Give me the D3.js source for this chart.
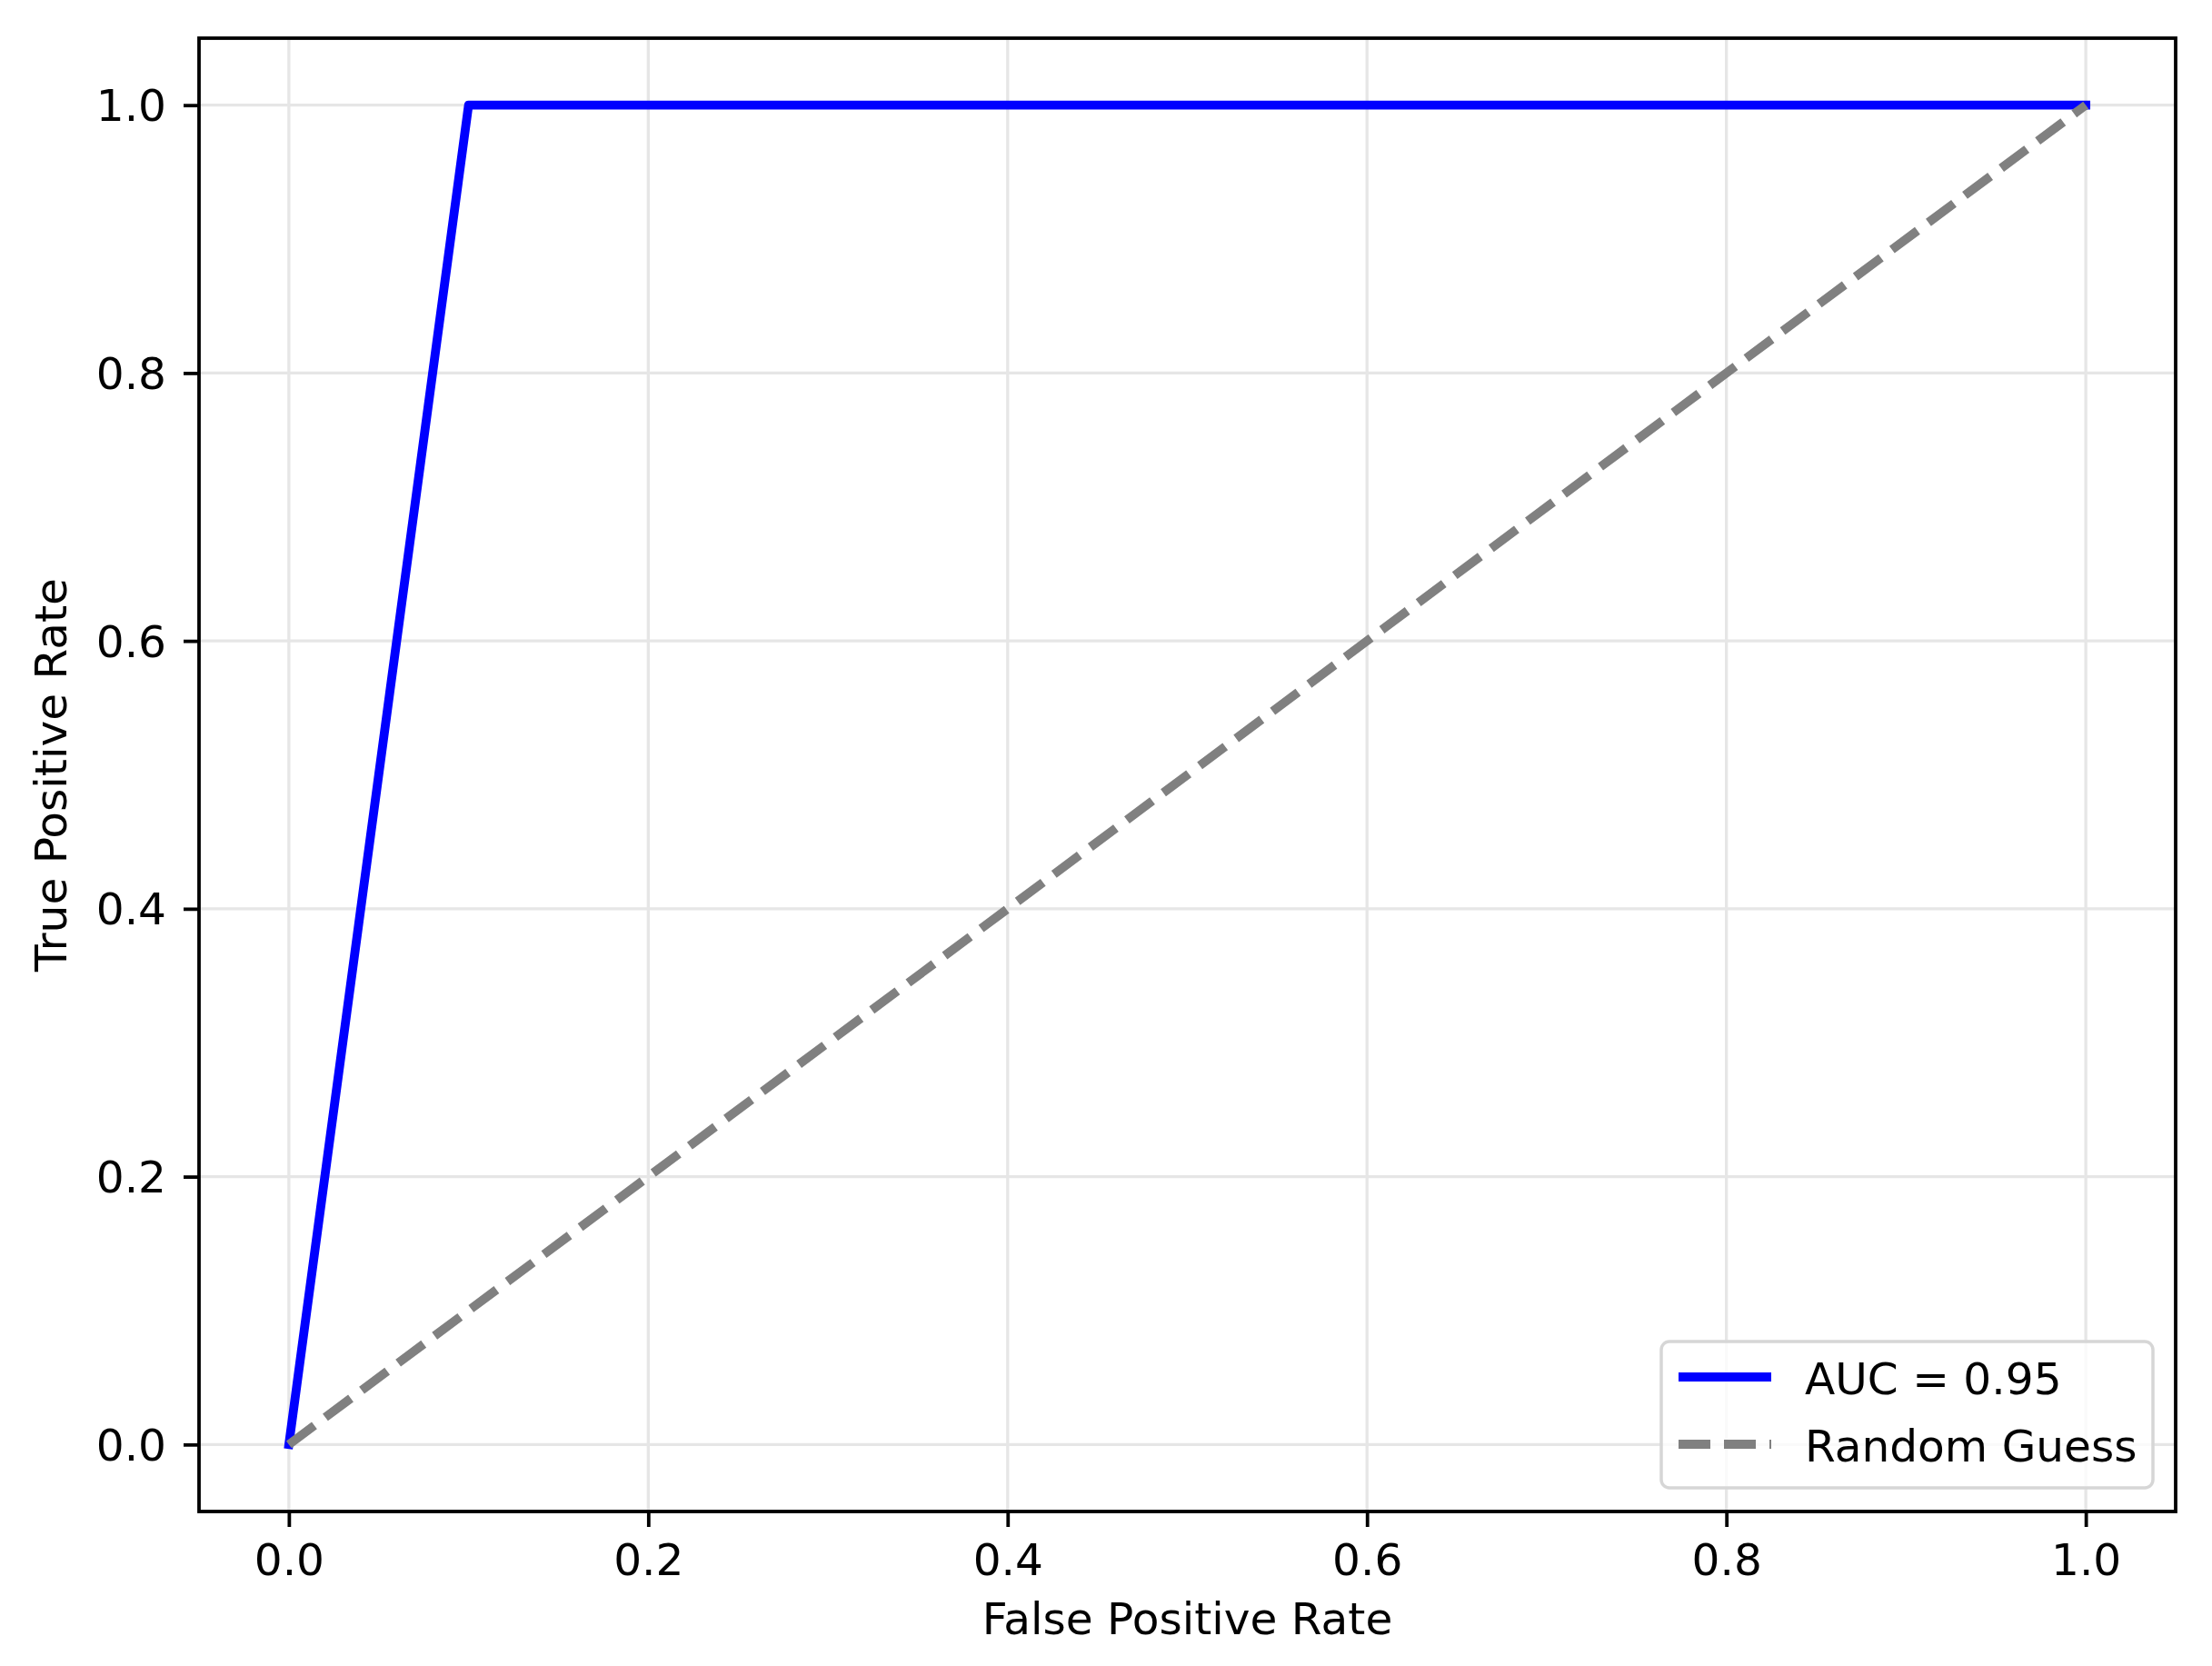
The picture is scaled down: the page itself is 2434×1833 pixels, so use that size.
<!DOCTYPE html>
<html>
<head>
<meta charset="utf-8">
<script src="https://cdn.jsdelivr.net/npm/d3@7"></script>
<style>
  html, body { margin: 0; padding: 0; background: #ffffff; }
  svg { display: block; }
  text { font-family: "DejaVu Sans", sans-serif; fill: #000; }
</style>
</head>
<body>
<script>
// ---- data ----
const rocFpr = [0.0, 0.1, 1.0];
const rocTpr = [0.0, 1.0, 1.0];
const diagFpr = [0.0, 1.0];
const diagTpr = [0.0, 1.0];
const xTicks = [0.0, 0.2, 0.4, 0.6, 0.8, 1.0];
const yTicks = [0.0, 0.2, 0.4, 0.6, 0.8, 1.0];
const legendLabels = ["AUC = 0.95", "Random Guess"];
const xLabel = "False Positive Rate";
const yLabel = "True Positive Rate";

// ---- layout ----
const W = 2434, H = 1833;
const L = 219, R = 2394, T = 42, B = 1663;
const fontPx = 48.6;
const lw = 9.8;

const svg = d3.select("body").append("svg").attr("width", W).attr("height", H);

const x = d3.scaleLinear().domain([-0.05, 1.05]).range([L, R]);
const y = d3.scaleLinear().domain([-0.05, 1.05]).range([B, T]);

// grid
const grid = svg.append("g");
grid.selectAll(".gx").data(xTicks).enter().append("line")
  .attr("x1", d => x(d)).attr("x2", d => x(d)).attr("y1", T).attr("y2", B)
  .attr("stroke", "#e6e6e6").attr("stroke-width", 3.3);
grid.selectAll(".gy").data(yTicks).enter().append("line")
  .attr("y1", d => y(d)).attr("y2", d => y(d)).attr("x1", L).attr("x2", R)
  .attr("stroke", "#e6e6e6").attr("stroke-width", 3.3);

// lines
const line = d3.line().x(d => x(d[0])).y(d => y(d[1]));
const rocPts = rocFpr.map((v, i) => [v, rocTpr[i]]);
const diagPts = diagFpr.map((v, i) => [v, diagTpr[i]]);

svg.append("path").attr("d", line(rocPts))
  .attr("fill", "none").attr("stroke", "#0000ff").attr("stroke-width", lw)
  .attr("stroke-linejoin", "round").attr("stroke-linecap", "square");
svg.append("path").attr("d", line(diagPts))
  .attr("fill", "none").attr("stroke", "#808080").attr("stroke-width", lw)
  .attr("stroke-dasharray", "35,15").attr("stroke-linecap", "butt");

// axes
const xAxis = d3.axisBottom(x).tickValues(xTicks).tickFormat(d3.format(".1f"))
  .tickSize(17).tickPadding(14);
const yAxis = d3.axisLeft(y).tickValues(yTicks).tickFormat(d3.format(".1f"))
  .tickSize(17).tickPadding(14);

const gx = svg.append("g").attr("transform", `translate(0,${B})`).call(xAxis);
const gy = svg.append("g").attr("transform", `translate(${L},0)`).call(yAxis);
[gx, gy].forEach(g => {
  g.select(".domain").remove();
  g.selectAll(".tick line").attr("stroke", "#000").attr("stroke-width", 3.8);
  g.selectAll(".tick text").attr("font-family", "DejaVu Sans").attr("font-size", fontPx).attr("fill", "#000");
});
gx.selectAll(".tick text").attr("dy", null).attr("y", 70);
gy.selectAll(".tick text").attr("dy", null).attr("x", -36).attr("y", 17);

// frame
svg.append("rect").attr("x", L).attr("y", T).attr("width", R - L).attr("height", B - T)
  .attr("fill", "none").attr("stroke", "#000").attr("stroke-width", 3.8);

// axis labels
svg.append("text").attr("x", (L + R) / 2).attr("y", 1798)
  .attr("text-anchor", "middle").attr("font-size", fontPx).text(xLabel);
svg.append("text").attr("transform", `translate(73,${(T + B) / 2}) rotate(-90)`)
  .attr("text-anchor", "middle").attr("font-size", fontPx).text(yLabel);

// legend
const lg = svg.append("g");
lg.append("rect").attr("x", 1828).attr("y", 1476).attr("width", 2369 - 1828).attr("height", 1637 - 1476)
  .attr("rx", 9).attr("ry", 9)
  .attr("fill", "#ffffff").attr("fill-opacity", 0.8)
  .attr("stroke", "#d6d6d6").attr("stroke-width", 3.5);
const legendStyles = [
  { color: "#0000ff", dash: null, ly: 1515, ty: 1534 },
  { color: "#808080", dash: "35,15", ly: 1589, ty: 1608 }
];
legendLabels.forEach((lab, i) => {
  const s = legendStyles[i];
  const ln = lg.append("line").attr("x1", 1847).attr("x2", 1949).attr("y1", s.ly).attr("y2", s.ly)
    .attr("stroke", s.color).attr("stroke-width", lw).attr("stroke-linecap", "butt");
  if (s.dash) ln.attr("stroke-dasharray", s.dash);
  lg.append("text").attr("x", 1986).attr("y", s.ty).attr("font-size", fontPx).text(lab);
});
</script>
</body>
</html>
